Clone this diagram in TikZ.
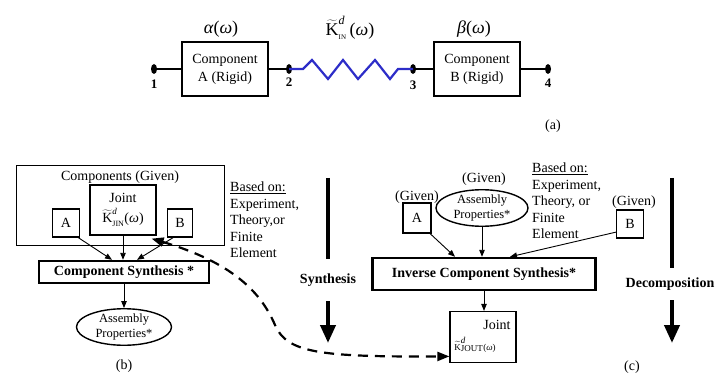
\documentclass[tikz,border=0pt]{standalone}
\usepackage{fontspec}
\setmainfont{Liberation Serif}
\usetikzlibrary{arrows.meta,positioning,shapes.geometric,calc}
\definecolor{springblue}{RGB}{45,45,200}

\begin{document}
\begin{tikzpicture}[x=1pt,y=-1pt,>={Triangle[length=7pt,width=5.5pt]},
  every node/.style={font=\fontsize{14}{16.5}\selectfont},
  rigid/.style={draw,line width=1.4pt,minimum width=86pt,minimum height=54pt,align=center,inner sep=0pt,font=\fontsize{14}{18}\selectfont},
  pin/.style={ellipse,fill,inner sep=0pt,minimum width=6pt,minimum height=10pt},
  wire/.style={line width=1.8pt},
  num/.style={font=\fontsize{13}{15}\selectfont\bfseries,inner sep=0pt},
  given/.style={draw,line width=1.2pt,minimum width=27pt,minimum height=28pt,inner sep=0pt},
  synth/.style={draw,line width=2.4pt,inner sep=0pt,font=\fontsize{14}{16.5}\selectfont\bfseries},
  assembly/.style={draw,line width=1.4pt,ellipse,inner sep=0pt,align=center,font=\fontsize{12.5}{14.5}\selectfont},
  feed/.style={->,line width=0.9pt},
  heavy/.style={line width=4pt},
  bigarrow/.style={line width=4pt,-{Triangle[length=18pt,width=15pt]}},
  basis/.style={align=left,anchor=north west,inner sep=0pt}]
\useasboundingbox (0,0) rectangle (728,374);

% (a) two rigid components joined by the joint
\node[pin] (p1) at (154,69) {};
\node[rigid] (compA) at (225,69) {Component\\A (Rigid)};
\node[pin] (p2) at (289,69) {};
\node[pin] (p3) at (413,69) {};
\node[rigid] (compB) at (477,69) {Component\\B (Rigid)};
\node[pin] (p4) at (548,69) {};
\node[num,below=6pt of p1] (n1) {1};
\node[num,below=3pt of p2] (n2) {2};
\node[num,below=6pt of p3] (n3) {3};
\node[num,below=5pt of p4] (n4) {4};
\draw[wire] (p1) -- (compA); \draw[wire] (compA) -- (p2);
\draw[wire] (p3) -- (compB); \draw[wire] (compB) -- (p4);
\draw[springblue,line width=2.2pt] (p2.center) -- (303,69) -- (312,60) -- (328,79) -- (343,60)
  -- (358,79) -- (375,60) -- (390,79) -- (398,69) -- (p3.center);
\node[font=\fontsize{18}{20}\selectfont] (alpha) at (221,29) {\textit{α}(\textit{ω})};
\node[font=\fontsize{18}{20}\selectfont] (beta) at (474,29) {\textit{β}(\textit{ω})};
\node[font=\fontsize{18}{20}\selectfont] (kin) at (350,28)
  {$\widetilde{\hbox{K}}^{\hbox{\fontsize{12}{12}\selectfont\itshape d}}_{\hbox{\fontsize{7}{7}\selectfont IN}}$\,(\textit{ω})};
\node (capa) at (553,126) {(a)};

% (b) synthesis
\node[draw,line width=0.9pt,minimum width=208pt,minimum height=80pt,inner sep=0pt] (compgiven) at (120,205) {};
\node (givenlbl) at (120,177) {Components (Given)};
\node[draw,line width=1.2pt,minimum width=66pt,minimum height=50pt,align=center,inner sep=0pt,font=\fontsize{14}{20}\selectfont] (jin) at (123,210)
  {Joint\\$\widetilde{\hbox{K}}^{\hbox{\fontsize{9}{9}\selectfont\itshape d}}_{\hbox{\fontsize{8}{8}\selectfont JIN}}$(\textit{ω})};
\node[given] (ba) at (66,223) {A};
\node[given,minimum width=25pt] (bb) at (180,223) {B};
\node[synth,minimum width=170pt,minimum height=22pt] (cs) at (124,272) {Component Synthesis *};
\node[assembly,minimum width=95pt,minimum height=31pt] (ap1) at (124,327) {Assembly\\Properties*};
\draw[feed] (ba.-50) -- ([xshift=-12pt]cs.north);
\draw[feed] (jin.south) -- (jin.south |- cs.north);
\draw[feed] (bb.-115) -- ([xshift=13pt]cs.north);
\draw[feed] (cs.south) -- (ap1.north);
\node[basis] (basisb) at (230,182) {\underline{Based on:}\\Experiment,\\Theory,or\\Finite\\Element};
\node (capb) at (124,366) {(b)};

\coordinate (syntop) at (328,178);
\coordinate (synend) at (328,343);
\node[font=\fontsize{14}{16.5}\selectfont\bfseries,minimum height=42pt,inner sep=0pt] (synlbl) at (328,280) {Synthesis};
\draw[heavy] (syntop) -- (synlbl.north);
\draw[bigarrow] (synlbl.south) -- (synend);

% (c) inverse synthesis
\node (givenap) at (484,179) {(Given)};
\node[assembly,minimum width=92pt,minimum height=33pt] (ap2) at (482,208) {Assembly\\Properties*};
\node (givena) at (417,197) {(Given)};
\node[given,minimum width=28pt,minimum height=30pt] (ca) at (417,218) {A};
\node (givenb) at (634,202) {(Given)};
\node[given,minimum width=27pt,minimum height=28pt] (cb) at (630,224) {B};
\node[synth,minimum width=223pt,minimum height=32pt] (ics) at (484,274) {Inverse Component Synthesis*};
\node[draw,line width=1.2pt,minimum width=66pt,minimum height=51pt,inner sep=0pt] (jout) at (483,337) {};
\node (joutlbl) at (497,325) {Joint};
\node[font=\fontsize{9}{10}\selectfont] (koutlbl) at (475,345)
  {$\widetilde{\hbox{K}}^{\hbox{\fontsize{9}{9}\selectfont\itshape d}}_{\hbox{\fontsize{9}{9}\selectfont JOUT}}$(\textit{ω})};
\draw[feed] (ca.-50) -- ([xshift=-29pt]ics.north);
\draw[feed] (ap2.south) -- (ap2.south |- ics.north);
\draw[feed] (cb.-150) -- ([xshift=26pt]ics.north);
\draw[feed] (ics.south) -- (ics.south |- jout.north);
\node[basis] (basisc) at (532,163) {\underline{Based on:}\\Experiment,\\Theory, or\\Finite\\Element};
\node (capc) at (632,367) {(c)};

\coordinate (dectop) at (672,178);
\coordinate (decend) at (672,343);
\node[font=\fontsize{14}{16.5}\selectfont\bfseries,minimum height=32pt,inner sep=0pt] (declbl) at (670,284) {Decomposition};
\draw[heavy] (dectop) -- (declbl.north -| dectop);
\draw[bigarrow] (declbl.south -| dectop) -- (decend);

% measured joint fed back to the synthesis
\draw[line width=2.2pt,dash pattern=on 10pt off 7pt,{Triangle[length=12pt,width=9pt]}-{Triangle[length=12pt,width=9pt]}]
  ([xshift=-5pt,yshift=-3pt]jin.south east) .. controls (230,262) and (260,290) .. (275,325)
  .. controls (287,353) and (320,357) .. (jout.-150);
\end{tikzpicture}
\end{document}
